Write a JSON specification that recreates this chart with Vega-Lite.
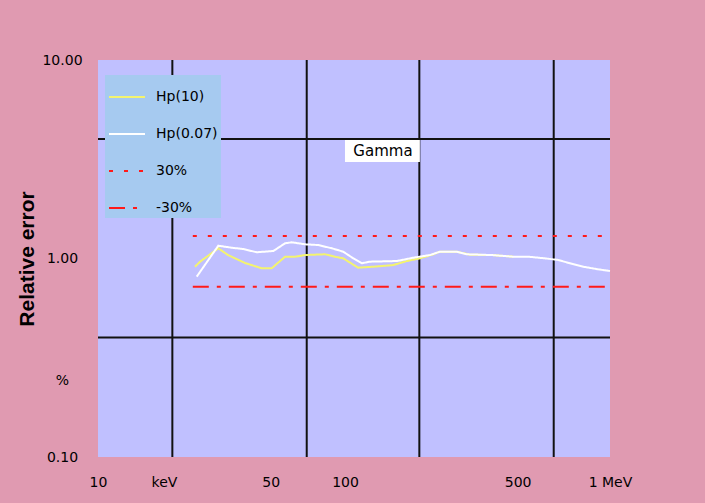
{
  "$schema": "https://vega.github.io/schema/vega-lite/v6.json",
  "width": 512,
  "height": 397,
  "autosize": {"type": "none"},
  "padding": {"left": 98, "top": 60, "right": 95, "bottom": 46},
  "background": "#e09ab1",
  "config": {"view": {"stroke": null, "fill": "#c0c0ff"}, "font": "DejaVu Sans"},
  "resolve": {"axis": {"x": "independent", "y": "independent"}},
  "datasets": {
    "series": [
      {"s": "Hp(10)", "x": 24.7, "y": 0.909},
      {"s": "Hp(10)", "x": 25.9, "y": 0.964},
      {"s": "Hp(10)", "x": 30.7, "y": 1.126},
      {"s": "Hp(10)", "x": 33.6, "y": 1.041},
      {"s": "Hp(10)", "x": 39.4, "y": 0.949},
      {"s": "Hp(10)", "x": 46.0, "y": 0.893},
      {"s": "Hp(10)", "x": 50.5, "y": 0.893},
      {"s": "Hp(10)", "x": 57.2, "y": 1.021},
      {"s": "Hp(10)", "x": 62.8, "y": 1.021},
      {"s": "Hp(10)", "x": 68.9, "y": 1.041},
      {"s": "Hp(10)", "x": 83.0, "y": 1.050},
      {"s": "Hp(10)", "x": 91.1, "y": 1.021},
      {"s": "Hp(10)", "x": 98.4, "y": 1.002},
      {"s": "Hp(10)", "x": 113, "y": 0.899},
      {"s": "Hp(10)", "x": 130, "y": 0.909},
      {"s": "Hp(10)", "x": 157, "y": 0.927},
      {"s": "Hp(10)", "x": 178, "y": 0.971},
      {"s": "Hp(10)", "x": 201, "y": 1.002},
      {"s": "Hp(10)", "x": 228, "y": 1.050},
      {"s": "Hp(10)", "x": 242, "y": 1.082},
      {"s": "Hp(10)", "x": 283, "y": 1.082},
      {"s": "Hp(10)", "x": 321, "y": 1.045},
      {"s": "Hp(10)", "x": 393, "y": 1.041},
      {"s": "Hp(10)", "x": 480, "y": 1.021},
      {"s": "Hp(0.07)", "x": 25.1, "y": 0.810},
      {"s": "Hp(0.07)", "x": 30.7, "y": 1.160},
      {"s": "Hp(0.07)", "x": 34.8, "y": 1.133},
      {"s": "Hp(0.07)", "x": 38.8, "y": 1.116},
      {"s": "Hp(0.07)", "x": 43.9, "y": 1.075},
      {"s": "Hp(0.07)", "x": 51.3, "y": 1.091},
      {"s": "Hp(0.07)", "x": 57.2, "y": 1.193},
      {"s": "Hp(0.07)", "x": 60.9, "y": 1.207},
      {"s": "Hp(0.07)", "x": 68.9, "y": 1.179},
      {"s": "Hp(0.07)", "x": 78.0, "y": 1.169},
      {"s": "Hp(0.07)", "x": 88.4, "y": 1.126},
      {"s": "Hp(0.07)", "x": 98.4, "y": 1.082},
      {"s": "Hp(0.07)", "x": 108, "y": 1.002},
      {"s": "Hp(0.07)", "x": 117, "y": 0.946},
      {"s": "Hp(0.07)", "x": 126, "y": 0.964},
      {"s": "Hp(0.07)", "x": 162, "y": 0.971},
      {"s": "Hp(0.07)", "x": 189, "y": 1.009},
      {"s": "Hp(0.07)", "x": 221, "y": 1.041},
      {"s": "Hp(0.07)", "x": 242, "y": 1.082},
      {"s": "Hp(0.07)", "x": 283, "y": 1.082},
      {"s": "Hp(0.07)", "x": 311, "y": 1.050},
      {"s": "Hp(0.07)", "x": 393, "y": 1.041},
      {"s": "Hp(0.07)", "x": 480, "y": 1.021},
      {"s": "Hp(0.07)", "x": 552, "y": 1.021},
      {"s": "Hp(0.07)", "x": 645, "y": 1.002},
      {"s": "Hp(0.07)", "x": 730, "y": 0.983},
      {"s": "Hp(0.07)", "x": 815, "y": 0.946},
      {"s": "Hp(0.07)", "x": 922, "y": 0.909},
      {"s": "Hp(0.07)", "x": 1060, "y": 0.882},
      {"s": "Hp(0.07)", "x": 1183, "y": 0.865},
      {"s": "30%", "x": 24.2, "y": 1.3},
      {"s": "30%", "x": 1183, "y": 1.3},
      {"s": "-30%", "x": 24.2, "y": 0.72},
      {"s": "-30%", "x": 1183, "y": 0.72}
    ],
    "vgrid": [{"gx": 20}, {"gx": 70}, {"gx": 200}, {"gx": 700}],
    "hgrid": [{"gy": 4}, {"gy": 0.4}],
    "note": [{"x": 100, "x2": 201, "y": 3.95, "y2": 3.06, "tx": 142.5, "ty": 3.48, "text": "Gamma"}]
  },
  "layer": [
    {
      "data": {"name": "vgrid"},
      "mark": {"type": "rule", "color": "#111111", "strokeWidth": 2},
      "encoding": {
        "x": {"field": "gx", "type": "quantitative", "scale": {"type": "log", "domain": [10, 1183], "nice": false}, "axis": null}
      }
    },
    {
      "data": {"name": "hgrid"},
      "mark": {"type": "rule", "color": "#111111", "strokeWidth": 2},
      "encoding": {
        "y": {"field": "gy", "type": "quantitative", "scale": {"type": "log", "domain": [0.1, 10], "nice": false}, "axis": null}
      }
    },
    {
      "data": {"name": "note"},
      "mark": {"type": "rect", "fill": "white"},
      "encoding": {
        "x": {"field": "x", "type": "quantitative", "scale": {"type": "log", "domain": [10, 1183], "nice": false}, "axis": null},
        "x2": {"field": "x2"},
        "y": {"field": "y", "type": "quantitative", "scale": {"type": "log", "domain": [0.1, 10], "nice": false}, "axis": null},
        "y2": {"field": "y2"}
      }
    },
    {
      "data": {"name": "note"},
      "mark": {"type": "text", "font": "DejaVu Sans", "fontSize": 15, "color": "black", "align": "center", "baseline": "middle"},
      "encoding": {
        "x": {"field": "tx", "type": "quantitative", "scale": {"type": "log", "domain": [10, 1183], "nice": false}, "axis": null},
        "y": {"field": "ty", "type": "quantitative", "scale": {"type": "log", "domain": [0.1, 10], "nice": false}, "axis": null},
        "text": {"field": "text"}
      }
    },
    {
      "data": {"name": "series"},
      "mark": {"type": "line", "strokeWidth": 2},
      "encoding": {
        "x": {
          "field": "x", "type": "quantitative",
          "scale": {"type": "log", "domain": [10, 1183], "nice": false},
          "axis": {
            "title": null, "values": [10, 18.5, 50, 100, 500, 1183],
            "labelExpr": "datum.value == 10 ? '10' : datum.value == 18.5 ? 'keV' : datum.value == 50 ? '50' : datum.value == 100 ? '100' : datum.value == 500 ? '500' : '1 MeV'",
            "grid": false, "ticks": false, "tickSize": 0, "domain": false,
            "labelPadding": 18, "labelBaseline": "top", "labelFontSize": 14, "labelFont": "DejaVu Sans",
            "labelColor": "black", "labelFlush": false, "labelOverlap": false
          }
        },
        "y": {
          "field": "y", "type": "quantitative",
          "scale": {"type": "log", "domain": [0.1, 10], "nice": false},
          "axis": {
            "title": "Relative error", "values": [0.1, 0.244, 1, 10],
            "labelExpr": "datum.value == 10 ? '10.00' : datum.value == 1 ? '1.00' : datum.value == 0.1 ? '0.10' : '%'",
            "grid": false, "ticks": false, "tickSize": 0, "domain": false,
            "labelAlign": "center", "labelBaseline": "middle", "labelPadding": 36,
            "labelFontSize": 14, "labelFont": "DejaVu Sans", "labelColor": "black",
            "labelFlush": false, "labelOverlap": false,
            "titleFont": "Liberation Sans", "titleFontSize": 21, "titleFontWeight": "bold", "titleColor": "black",
            "titleAngle": -90, "titleX": -65, "titleY": 198.5, "titleBaseline": "alphabetic", "titleAlign": "center"
          }
        },
        "color": {
          "field": "s", "type": "nominal",
          "scale": {"domain": ["Hp(10)", "Hp(0.07)", "30%", "-30%"], "range": ["#f4f46e", "#ffffff", "#ff1a1a", "#ff1a1a"]},
          "legend": {
            "title": null, "orient": "none", "legendX": 7, "legendY": 15,
            "fillColor": "#a6caf0", "padding": 3, "symbolType": "stroke", "symbolSize": 1296,
            "symbolStrokeWidth": 2, "labelFontSize": 14, "labelFont": "DejaVu Sans", "labelColor": "black",
            "labelOffset": 10, "rowPadding": 11, "labelLimit": 200
          }
        },
        "strokeDash": {
          "field": "s", "type": "nominal",
          "scale": {"domain": ["Hp(10)", "Hp(0.07)", "30%", "-30%"], "range": [[1, 0], [1, 0], [4, 11], [16, 8, 4, 8]]}
        }
      }
    }
  ]
}
